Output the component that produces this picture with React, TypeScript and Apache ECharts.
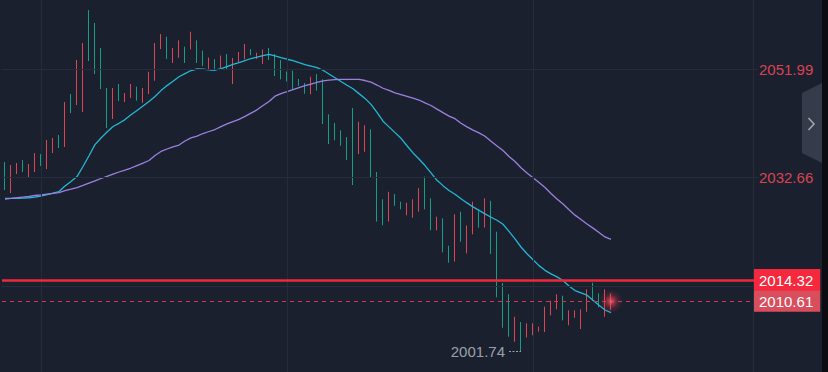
import React, { useEffect, useRef } from "react";
import * as echarts from "echarts";

// ---- data ----
const slotCount = 126;
const categories = Array.from({ length: slotCount }, (_, i) => String(i));

const opens = [
  2035.45, 2029.92, 2033.31, 2035.81, 2032.77, 2033.67, 2036.87, 2034.2, 2037.05, 2040.26,
  2038.12, 2047.57, 2045.61, 2044.36, 2062.54, 2060.23, 2055.77, 2048.64, 2043.11, 2049.35,
  2046.14, 2046.86, 2048.87, 2046.02, 2047.57, 2049.94, 2055.59, 2057.78, 2053.1, 2054.04,
  2056.0, 2055.54, 2057.14, 2055.32, 2051.85, 2053.81, 2052.2, 2054.7, 2049.35, 2053.27,
  2053.75, 2055.59, 2053.81, 2052.92, 2055.77, 2054.7, 2053.63, 2051.58, 2051.76, 2050.24,
  2049.53, 2047.53, 2051.13, 2050.19, 2043.95, 2042.4, 2041.1, 2039.9, 2045.07, 2036.87,
  2037.28, 2041.28, 2033.67, 2028.8, 2024.84, 2029.74, 2028.37, 2025.95, 2025.52, 2026.59,
  2032.86, 2028.98, 2023.27, 2025.41, 2020.53, 2017.71, 2026.59, 2019.17, 2022.56, 2026.68,
  2023.77, 2028.55, 2023.02, 2013.88, 2011.88, 2003.42, 2006.93, 2004.17, 2004.58, 2005.23,
  2005.15, 2008.12, 2009.19, 2011.62, 2006.34, 2007.69, 2005.68, 2008.76, 2013.93, 2012.04,
  2007.87, 2009.07,
];
const closes = [
  2030.46, 2034.91, 2035.27, 2033.67, 2035.09, 2037.05, 2034.74, 2039.37, 2039.73, 2037.94,
  2046.14, 2044.18, 2053.63, 2056.66, 2053.45, 2051.13, 2048.46, 2041.51, 2048.64, 2046.32,
  2047.75, 2049.35, 2046.38, 2048.64, 2051.54, 2056.66, 2058.26, 2053.81, 2055.77, 2057.14,
  2053.1, 2058.67, 2053.1, 2052.56, 2054.08, 2051.76, 2054.43, 2052.03, 2053.99, 2055.06,
  2056.48, 2054.47, 2054.93, 2055.5, 2053.63, 2050.78, 2050.19, 2049.8, 2048.46, 2048.99,
  2047.62, 2050.65, 2048.19, 2042.22, 2038.66, 2039.32, 2038.35, 2035.81, 2031.35, 2042.63,
  2041.99, 2032.65, 2024.84, 2024.18, 2030.14, 2027.66, 2027.02, 2028.19, 2028.8, 2030.78,
  2027.02, 2023.29, 2025.7, 2019.35, 2017.5, 2026.13, 2021.24, 2024.13, 2028.37, 2023.74,
  2028.98, 2019.05, 2011.33, 2005.91, 2004.31, 2007.87, 2001.74, 2006.7, 2006.7, 2006.09,
  2009.66, 2010.72, 2011.87, 2007.23, 2009.01, 2009.01, 2009.19, 2012.76, 2010.72, 2009.55,
  2012.76, 2010.61,
];
const lastCandleHigh = 2012.04;

const maFast = [
  2028.98, 2028.98, 2028.98, 2029.03, 2029.08, 2029.21, 2029.39, 2029.65, 2029.92, 2030.19,
  2031.17, 2031.99, 2032.86, 2034.65, 2036.57, 2038.55, 2039.73, 2040.8, 2041.78, 2042.35,
  2043.01, 2043.86, 2044.65, 2045.43, 2046.22, 2047.14, 2048.18, 2049.07, 2049.85, 2050.65,
  2051.21, 2051.76, 2052.03, 2051.99, 2051.88, 2051.81, 2052.1, 2052.45, 2052.86, 2053.17,
  2053.52, 2053.9, 2054.13, 2054.43, 2054.65, 2054.38, 2054.04, 2053.77, 2053.54, 2053.18,
  2052.83, 2052.56, 2052.29, 2051.81, 2051.13, 2050.48, 2049.8, 2049.14, 2048.5, 2047.64,
  2046.79, 2045.72, 2044.31, 2042.72, 2041.71, 2040.69, 2039.67, 2038.35, 2037.07, 2035.98,
  2034.82, 2033.51, 2032.19, 2031.24, 2030.37, 2029.71, 2028.91, 2028.16, 2027.46, 2026.84,
  2026.21, 2025.61, 2025.07, 2024.36, 2023.1, 2021.76, 2020.3, 2019.1, 2018.03, 2016.98,
  2016.14, 2015.52, 2014.98, 2014.33, 2013.35, 2012.53, 2012.12, 2011.71, 2010.81, 2009.92,
  2009.07, 2008.59,
];
const maSlow = [
  2028.85, 2028.96, 2029.08, 2029.21, 2029.33, 2029.48, 2029.6, 2029.74, 2029.87, 2030.01,
  2030.37, 2030.62, 2030.9, 2031.28, 2031.69, 2032.1, 2032.51, 2032.9, 2033.31, 2033.67,
  2034.02, 2034.38, 2034.82, 2035.25, 2035.72, 2036.61, 2037.34, 2037.77, 2038.16, 2038.48,
  2039.19, 2039.74, 2040.08, 2040.53, 2040.89, 2041.24, 2041.76, 2042.24, 2042.65, 2043.04,
  2043.59, 2044.17, 2044.75, 2045.52, 2046.23, 2047.18, 2047.64, 2048.0, 2048.37, 2048.73,
  2049.07, 2049.35, 2049.64, 2049.92, 2050.05, 2050.15, 2050.19, 2050.19, 2050.19, 2050.19,
  2049.98, 2049.69, 2049.17, 2048.6, 2048.21, 2047.78, 2047.46, 2047.14, 2046.82, 2046.5,
  2045.98, 2045.52, 2044.88, 2044.25, 2043.63, 2043.17, 2042.35, 2041.71, 2041.13, 2040.64,
  2040.05, 2039.16, 2038.3, 2037.5, 2036.43, 2035.54, 2034.43, 2033.49, 2032.65, 2031.79,
  2030.92, 2029.85, 2028.85, 2027.96, 2026.93, 2025.98, 2025.2, 2024.41, 2023.67, 2022.88,
  2022.1, 2021.67,
];

const gridPrices = [2013.33, 2032.66, 2051.99];
const labeledPrices = [2032.66, 2051.99];
const gridSlots = [6, 47, 88];
const priceLine = 2014.32;
const lastPrice = 2010.61;
const lowPrice = 2001.74;
const lowSlot = 86;
const yMin = 1998.02;
const yMax = 2064.33;

const BG = "#1b202e";
const GRID = "#262c3b";
const UP = "#dc4653";
const DOWN = "#139f86";
const FONT = "Liberation Sans, Arial, sans-serif";

export default function App() {
  const ref = useRef<HTMLDivElement>(null);

  useEffect(() => {
    document.body.style.margin = "0";
    document.body.style.background = BG;
    if (!ref.current) return;
    const chart = echarts.init(ref.current, undefined, { renderer: "svg" });

    const lastIdx = opens.length - 1;
    const candleData = opens.map((o, i) => {
      const c = closes[i];
      const lo = Math.min(o, c);
      const hi = i === lastIdx ? lastCandleHigh : Math.max(o, c);
      return [o, c, lo, hi];
    });

    const option: any = {
      animation: false,
      backgroundColor: BG,
      grid: { left: 2, top: 0, width: 756, height: 372, containLabel: false },
      xAxis: {
        type: "category",
        data: categories,
        show: false,
        boundaryGap: true,
      },
      yAxis: {
        type: "value",
        min: yMin,
        max: yMax,
        show: false,
        splitLine: { show: false },
      },
      graphic: [
        { type: "line", shape: { x1: 753.5, y1: 0, x2: 753.5, y2: 372 }, style: { stroke: GRID, lineWidth: 1 }, z: 0 },
        { type: "rect", shape: { x: 822, y: 0, width: 6, height: 372 }, style: { fill: "#0b0d12" }, z: 10 },
        {
          type: "polygon",
          shape: { points: [[822, 83], [802, 93], [802, 153], [822, 163]] },
          style: { fill: "#353b4a" },
          z: 10,
        },
        {
          type: "polyline",
          shape: { points: [[808.5, 118], [814, 124], [808.5, 130]] },
          style: { stroke: "#a3a8b2", lineWidth: 1.5, fill: "none" },
          z: 11,
        },
      ],
      series: [
        {
          type: "line",
          data: closes,
          symbol: "none",
          silent: true,
          lineStyle: { opacity: 0 },
          z: 1,
          markLine: {
            silent: true,
            symbol: ["none", "none"],
            animation: false,
            lineStyle: { color: GRID, width: 1, type: "solid" },
            data: [
              ...gridPrices.map((p) => ({
                yAxis: p,
                label: {
                  show: labeledPrices.includes(p),
                  position: "end",
                  formatter: p.toFixed(2),
                  color: "#d64452",
                  fontSize: 15,
                  fontFamily: FONT,
                  distance: 1,
                },
              })),
              ...gridSlots.map((s) => ({ xAxis: s, label: { show: false } })),
            ],
          },
        },
        {
          type: "candlestick",
          data: candleData,
          barWidth: 1,
          z: 2,
          itemStyle: {
            color: UP,
            color0: DOWN,
            borderColor: UP,
            borderColor0: DOWN,
            borderWidth: 1,
          },
        },
        {
          type: "line",
          data: maFast,
          symbol: "none",
          smooth: false,
          z: 3,
          lineStyle: { color: "#22b8d4", width: 1.3 },
        },
        {
          type: "line",
          data: maSlow,
          symbol: "none",
          smooth: false,
          z: 3,
          lineStyle: { color: "#9b80df", width: 1.3 },
        },
        {
          type: "line",
          data: closes,
          symbol: "none",
          silent: true,
          lineStyle: { opacity: 0 },
          z: 4,
          markLine: {
            silent: true,
            symbol: ["none", "none"],
            animation: false,
            data: [
              {
                yAxis: priceLine,
                lineStyle: { color: "#ee283d", width: 2.5, type: "solid" },
                label: {
                  show: true,
                  position: "end",
                  distance: -4,
                  formatter: priceLine.toFixed(2),
                  color: "#ffffff",
                  backgroundColor: "#f5283d",
                  fontSize: 15,
                  lineHeight: 15,
                  fontFamily: FONT,
                  padding: [4, 7, 4, 5],
                },
              },
              {
                yAxis: lastPrice,
                lineStyle: { color: "#c83c4c", width: 1, type: [4, 4] },
                label: {
                  show: true,
                  position: "end",
                  distance: -4,
                  formatter: lastPrice.toFixed(2),
                  color: "#ffffff",
                  backgroundColor: "#d84e5c",
                  fontSize: 15,
                  lineHeight: 15,
                  fontFamily: FONT,
                  padding: [3, 7, 3, 5],
                },
              },
            ],
          },
        },
        {
          type: "line",
          data: closes,
          symbol: "none",
          silent: true,
          lineStyle: { opacity: 0 },
          z: 5,
          markLine: {
            silent: true,
            symbol: ["none", "none"],
            animation: false,
            lineStyle: { color: "#9aa0ab", width: 1, type: [2, 1.5] },
            label: {
              show: true,
              position: "start",
              distance: 4,
              formatter: lowPrice.toFixed(2),
              color: "#9aa0ab",
              fontSize: 15,
              fontFamily: FONT,
              padding: [9, 0, 0, 0],
            },
            data: [[{ coord: [lowSlot - 2, lowPrice] }, { coord: [lowSlot, lowPrice] }]],
          },
        },
        {
          type: "scatter",
          data: [[lastIdx, lastPrice]],
          symbol: "circle",
          symbolSize: 24,
          silent: true,
          z: 6,
          itemStyle: {
            color: new echarts.graphic.RadialGradient(0.5, 0.5, 0.5, [
              { offset: 0, color: "rgba(255,110,120,1)" },
              { offset: 0.25, color: "rgba(245,70,90,0.75)" },
              { offset: 0.6, color: "rgba(230,50,70,0.25)" },
              { offset: 1, color: "rgba(230,50,70,0)" },
            ]),
          },
        },
      ],
    };

    chart.setOption(option);
    return () => chart.dispose();
  }, []);

  return (
    <div
      ref={ref}
      style={{ position: "fixed", left: 0, top: 0, width: 828, height: 372, background: BG }}
    />
  );
}
